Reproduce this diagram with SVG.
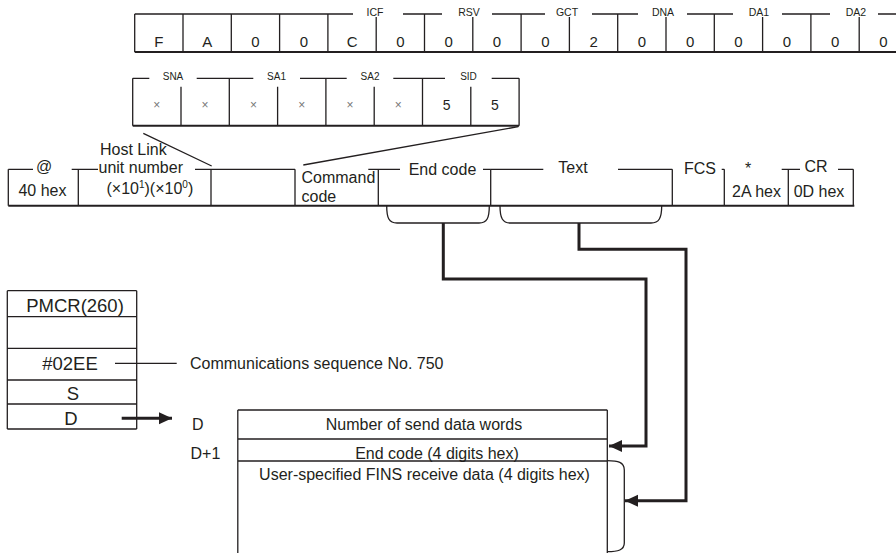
<svg xmlns="http://www.w3.org/2000/svg" width="896" height="553" viewBox="0 0 896 553">
<style>
text{font-family:"Liberation Sans",Arial,sans-serif;fill:#231f20}
.ln{stroke:#231f20;stroke-width:1.3;fill:none}
.bl{stroke:#231f20;stroke-width:2;fill:none}
.cn{stroke:#231f20;stroke-width:3;fill:none}
.lbl{font-size:10.5px;text-anchor:middle}
.hx{font-size:15px;text-anchor:middle}
.m{font-size:16px}
.mc{font-size:16px;text-anchor:middle}
.pm{font-size:18.5px;text-anchor:middle}
.x{font-size:12px;text-anchor:middle;fill:#777}
</style>
<defs>
<marker id="ah" markerUnits="userSpaceOnUse" markerWidth="14" markerHeight="14" viewBox="0 0 14 14" refX="13" refY="7" orient="auto">
<path d="M0,1 L13,7 L0,13 Z" fill="#231f20"/>
</marker>
</defs>

<g id="fins-header">
<path class="ln" d="M134.7,14 H353 M403,14 H442 M492,14 H545 M592,14 H638 M687,14 H733 M782,14 H830 M878,14 H896"/>
<path class="ln" d="M134.7,14 V52 M183,14 V52 M231.3,14 V52 M279.6,14 V52 M327.9,14 V52 M376.2,17 V52 M424.5,14 V52 M472.8,17 V52 M521.1,14 V52 M569.4,17 V52 M617.7,14 V52 M666,17 V52 M714.3,14 V52 M762.6,17 V52 M810.9,14 V52 M859.2,17 V52"/>
<path class="bl" d="M134.7,52 H896"/>
<text class="lbl" x="375" y="15.5">ICF</text>
<text class="lbl" x="469" y="15.5">RSV</text>
<text class="lbl" x="567" y="15.5">GCT</text>
<text class="lbl" x="663" y="15.5">DNA</text>
<text class="lbl" x="759" y="15.5">DA1</text>
<text class="lbl" x="856" y="15.5">DA2</text>
<text class="hx" x="158.9" y="46.5">F</text>
<text class="hx" x="207.2" y="46.5">A</text>
<text class="hx" x="255.5" y="46.5">0</text>
<text class="hx" x="303.8" y="46.5">0</text>
<text class="hx" x="352.1" y="46.5">C</text>
<text class="hx" x="400.4" y="46.5">0</text>
<text class="hx" x="448.7" y="46.5">0</text>
<text class="hx" x="497" y="46.5">0</text>
<text class="hx" x="545.3" y="46.5">0</text>
<text class="hx" x="593.6" y="46.5">2</text>
<text class="hx" x="641.9" y="46.5">0</text>
<text class="hx" x="690.2" y="46.5">0</text>
<text class="hx" x="738.5" y="46.5">0</text>
<text class="hx" x="786.8" y="46.5">0</text>
<text class="hx" x="835.1" y="46.5">0</text>
<text class="hx" x="883.4" y="46.5">0</text>
</g>

<g id="fins-source">
<path class="ln" d="M132.7,78.3 H149.3 M196.7,78.3 H253.3 M300,78.3 H346.7 M393.3,78.3 H445 M491.7,78.3 H519.1"/>
<path class="ln" d="M132.7,78.3 V125.7 M181,86.7 V125.7 M229.3,78.3 V125.7 M277.6,86.7 V125.7 M325.9,78.3 V125.7 M374.2,86.7 V125.7 M422.5,78.3 V125.7 M470.8,86.7 V125.7 M519.1,78.3 V125.7"/>
<path class="bl" d="M132.7,125.7 H519.1"/>
<text class="lbl" x="173" y="79.5" style="font-size:10px">SNA</text>
<text class="lbl" x="276.5" y="79.5" style="font-size:10px">SA1</text>
<text class="lbl" x="370" y="79.5" style="font-size:10px">SA2</text>
<text class="lbl" x="468.5" y="79.5" style="font-size:10px">SID</text>
<text class="x" x="156.8" y="109">×</text>
<text class="x" x="205.1" y="109">×</text>
<text class="x" x="253.4" y="109">×</text>
<text class="x" x="301.7" y="109">×</text>
<text class="x" x="350" y="109">×</text>
<text class="x" x="398.3" y="109">×</text>
<text x="446.6" y="110" style="font-size:14px;text-anchor:middle">5</text>
<text x="494.9" y="110" style="font-size:14px;text-anchor:middle">5</text>
</g>

<g id="hostlink-frame">
<path class="ln" d="M8.3,169.3 H33 M71.7,169.3 H98 M195,169.3 H295 M368.3,169.3 H400 M483,169.3 H490.7 M490.7,169.3 H543.3 M618,169.3 H672.3 M721.7,169.3 H724.3 M781.7,169.3 H800 M838,169.3 H853.3"/>
<path class="ln" d="M8.3,169.3 V205.7 M78.3,169.3 V205.7 M211,169.3 V205.7 M295,169.3 V205.7 M378.3,169.3 V205.7 M490.7,169.3 V205.7 M672.3,169.3 V205.7 M724.3,169.3 V205.7 M788.3,169.3 V205.7 M853.3,169.3 V205.7"/>
<path class="bl" d="M8.3,205.7 H854.3"/>
<text class="mc" x="44" y="172">@</text>
<text class="mc" x="42.5" y="196">40 hex</text>
<text class="m" x="100" y="155">Host Link</text>
<text class="m" x="98.5" y="173.3">unit number</text>
<text class="m" x="106.5" y="193.5">(×10<tspan font-size="10" dy="-6">1</tspan><tspan dy="6">)(×10</tspan><tspan font-size="10" dy="-6">0</tspan><tspan dy="6">)</tspan></text>
<text class="m" x="301.5" y="183.3">Command</text>
<text class="m" x="301.5" y="201.5">code</text>
<text class="mc" x="442.5" y="175">End code</text>
<text class="mc" x="573" y="172.7">Text</text>
<text class="mc" x="700" y="174">FCS</text>
<text class="mc" x="748" y="174">*</text>
<text class="mc" x="816" y="171.7">CR</text>
<text class="mc" x="756.5" y="196.5">2A hex</text>
<text class="mc" x="819" y="196.5">0D hex</text>
</g>

<g id="pmcr">
<path class="ln" d="M7.3,290.7 H136.7 M7.3,316.7 H136.7 M7.3,348.3 H136.7 M7.3,380 H136.7 M7.3,404 H136.7 M7.3,429 H136.7 M7.3,290.7 V429 M136.7,290.7 V429"/>
<text class="pm" x="75" y="311.5">PMCR(260)</text>
<text class="pm" x="70" y="370">#02EE</text>
<text class="pm" x="73" y="400">S</text>
<text class="pm" x="71" y="425">D</text>
<path class="ln" d="M115,363.3 H176.7"/>
<text class="m" x="190" y="369">Communications sequence No. 750</text>
</g>

<g id="data-area">
<path class="ln" d="M237.8,410 H607.3 M237.8,439 H607.3 M237.8,461 H607.3 M237.8,410 V553 M607.3,410 V553"/>
<text class="m" x="192" y="430">D</text>
<text class="m" x="190.5" y="459">D+1</text>
<text class="mc" x="424" y="430">Number of send data words</text>
<text class="mc" x="437" y="458.5">End code (4 digits hex)</text>
<text class="mc" x="424.5" y="480">User-specified FINS receive data (4 digits hex)</text>
</g>

<g id="connectors">
<path class="ln" d="M143.3,133.3 L211.7,166 M518.3,126.7 L303.3,165"/>
<path class="ln" d="M386.7,205.7 C386.7,218 389,223 397,223 H479 C487,223 489.3,218 489.3,205.7"/>
<path class="ln" d="M500,205.7 C500,218 502.5,223 510.5,223 H651 C659,223 661.7,218 661.7,205.7"/>
<path class="ln" d="M607.3,460.7 C618,460.7 624.3,462 624.3,470 V543 C624.3,550 618,551.7 607.3,551.7"/>
<path class="cn" d="M443.3,223 V279 H646 V446 H609" marker-end="url(#ah)"/>
<path class="cn" d="M579,223 V249.3 H686 V500.7 H625" marker-end="url(#ah)"/>
<path class="cn" d="M121.7,418.3 H172" marker-end="url(#ah)"/>
</g>
</svg>
